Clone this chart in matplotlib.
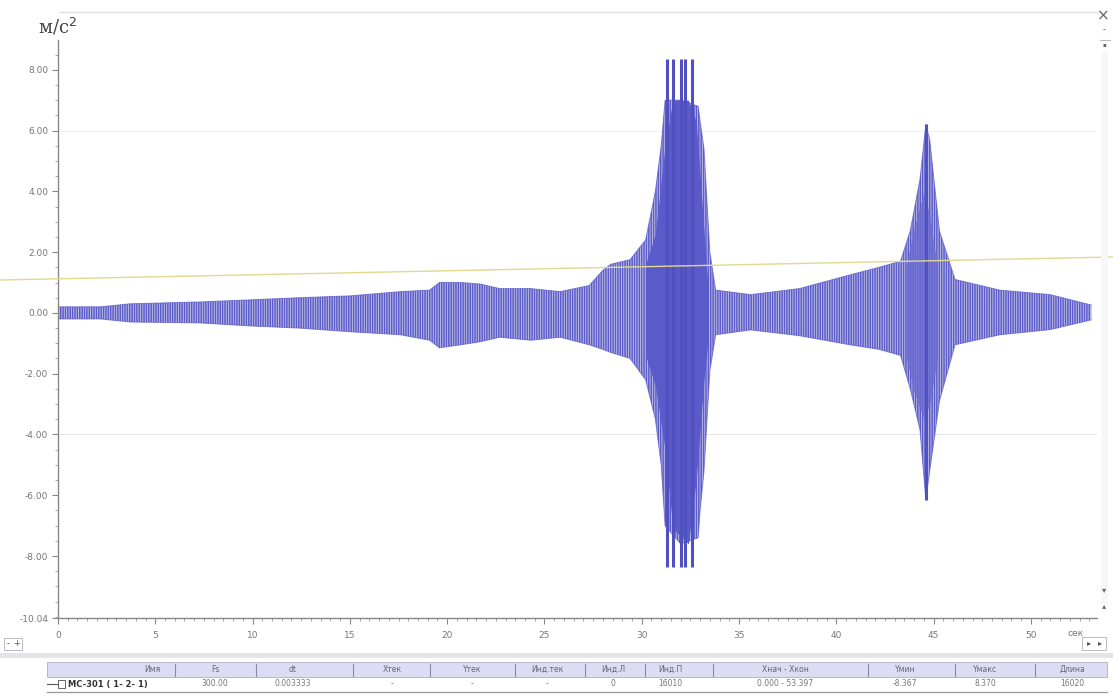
import matplotlib
matplotlib.use("Agg")
import matplotlib.pyplot as plt
from matplotlib.ticker import MultipleLocator, FixedLocator
from matplotlib.patches import Rectangle

# =============================
# Data
# =============================
# time (s) and upper / lower envelope of the signal (m/s^2)
env_t = [0.0, 2.2, 3.7, 7.3, 9.9, 12.4, 15.0, 17.6, 19.1, 19.6, 20.7, 21.7,
         22.7, 24.3, 25.8, 27.3, 28.0, 28.4, 29.4, 30.2, 30.7, 31.0, 31.2,
         32.0, 32.9, 33.0, 33.2, 33.5, 33.8, 35.6, 38.1, 40.7, 42.2, 43.3,
         43.8, 44.3, 44.6, 44.8, 45.3, 46.1, 48.4, 51.0, 53.1]
env_hi = [0.20, 0.20, 0.30, 0.36, 0.43, 0.50, 0.56, 0.70, 0.75, 1.00, 1.00, 0.95,
          0.80, 0.80, 0.70, 0.90, 1.40, 1.60, 1.75, 2.40, 4.00, 5.50, 7.00,
          7.00, 6.80, 6.30, 5.40, 2.00, 0.75, 0.60, 0.80, 1.25, 1.50, 1.70,
          2.70, 4.40, 6.20, 5.70, 2.70, 1.10, 0.75, 0.60, 0.26]
env_lo = [-0.20, -0.20, -0.30, -0.33, -0.43, -0.50, -0.62, -0.72, -0.90, -1.15, -1.05, -0.95,
          -0.80, -0.90, -0.80, -1.05, -1.20, -1.30, -1.50, -2.20, -3.50, -5.00, -7.00,
          -7.60, -7.40, -6.50, -5.20, -1.90, -0.72, -0.56, -0.75, -1.05, -1.20, -1.40,
          -2.50, -3.85, -6.15, -5.20, -2.90, -1.05, -0.72, -0.55, -0.23]

# dense (solid) cores of the two bursts
core_t = [30.2, 30.7, 31.2, 31.6, 32.4, 32.8, 33.2, 33.4]
core_hi = [1.6, 2.6, 5.5, 7.0, 7.0, 6.3, 2.7, 0.9]
core_lo = [-1.4, -2.4, -4.5, -7.1, -7.6, -5.5, -2.2, -0.9]
core2_t = [43.6, 44.0, 44.5, 44.8, 45.2]
core2_hi = [1.6, 2.8, 4.0, 3.2, 1.5]
core2_lo = [-1.5, -2.6, -3.5, -3.0, -1.5]

# clipped spikes (s, min, max)
spike_t = [31.3, 31.6, 32.0, 32.2, 32.6, 44.6]
spike_hi = [8.37, 8.37, 8.37, 8.37, 8.37, 6.20]
spike_lo = [-8.36, -8.36, -8.36, -8.36, -8.36, -6.15]

y_ticks = [8.0, 6.0, 4.0, 2.0, 0.0, -2.0, -4.0, -6.0, -8.0, -10.04]
x_ticks = [0, 5, 10, 15, 20, 25, 30, 35, 40, 45, 50]

tbl_head = ["Имя", "Fs", "dt", "Xтек", "Yтек", "Инд.тек", "Инд.Л", "Инд.П",
            "Xнач - Xкон", "Yмин", "Yмакс", "Длина"]
tbl_row = ["MC-301 ( 1- 2- 1)", "300.00", "0.003333", "-", "-", "-", "0", "16010",
           "0.000 - 53.397", "-8.367", "8.370", "16020"]

SIG = "#5c5cc8"
GREY = "#777777"

plt.rcParams["hatch.linewidth"] = 1.1
fig = plt.figure(figsize=(11.13, 6.97), dpi=100)

# =============================
# Signal axes
# =============================
ax = fig.add_axes([58 / 1113, 1 - 618 / 697, 1039 / 1113, 578 / 697])
ax.set_xlim(0, 53.397)
ax.set_ylim(-10.04, 8.98)

ax.fill_between(env_t, env_lo, env_hi, facecolor="#c4c4ee",
                edgecolor=SIG, hatch="|" * 7, linewidth=0, zorder=2)
ax.plot(env_t, env_hi, color=SIG, lw=0.7, alpha=0.7, zorder=2)
ax.plot(env_t, env_lo, color=SIG, lw=0.7, alpha=0.7, zorder=2)
ax.fill_between(core_t, core_lo, core_hi, color="#5a5ac8", lw=0, zorder=3)
ax.fill_between(core2_t, core2_lo, core2_hi, color="#6a6ad0", lw=0, alpha=0.8, zorder=3)
ax.vlines(spike_t, spike_lo, spike_hi, color="#5050c0", lw=2.2, zorder=4)

ax.axhline(-4.0, color="#e6e6e6", lw=0.8, zorder=1)
ax.axhline(6.0, color="#f2f2f2", lw=0.8, zorder=1)

for s in ["top", "right"]:
    ax.spines[s].set_visible(False)
for s in ["left", "bottom"]:
    ax.spines[s].set_color("#888888")
    ax.spines[s].set_linewidth(1.0)

ax.yaxis.set_major_locator(FixedLocator(y_ticks))
ax.set_yticklabels([f"{v:.2f}" for v in y_ticks])
ax.yaxis.set_minor_locator(MultipleLocator(0.5))
ax.xaxis.set_major_locator(FixedLocator(x_ticks))
ax.set_xticklabels([str(v) for v in x_ticks])
ax.xaxis.set_minor_locator(MultipleLocator(0.5))
ax.tick_params(which="major", length=4, width=0.8, color="#888888",
               labelsize=6.5, labelcolor=GREY, pad=3)
ax.tick_params(which="minor", length=2, width=0.6, color="#999999")
ax.tick_params(axis="x", which="major", pad=5)

# =============================
# Frame, labels and table drawn in pixel coordinates
# =============================
ov = fig.add_axes([0, 0, 1, 1], zorder=5)
ov.set_xlim(0, 1113)
ov.set_ylim(697, 0)
ov.axis("off")
ov.patch.set_alpha(0)

ov.plot([0, 1113], [280, 257], color="#e2d88e", lw=1.0)
ov.plot([60, 1100], [12, 12], color="#e0e0e0", lw=1.0)
ov.text(38, 27, "м/с$^2$", fontsize=13, family="DejaVu Serif", color="#444444",
        va="center", ha="left")
ov.text(1068, 633, "сек", fontsize=6.5, color=GREY, va="center")
ov.text(1103, 16, "×", fontsize=11, color="#666666", ha="center", va="center")
ov.plot([1100, 1110], [40, 40], color="#bbbbbb", lw=0.8)
ov.text(1104, 30, "-", fontsize=6, color="#666666", ha="center", va="center")
ov.text(1104, 45, "▪", fontsize=4, color="#666666", ha="center", va="center")
ov.plot([1104, 1104], [55, 600], color="#f7f7f7", lw=5)
ov.text(1104, 590, "▾", fontsize=6, color="#666666", ha="center", va="center")
ov.text(1104, 606, "▴", fontsize=6, color="#666666", ha="center", va="center")

# scroll buttons under the axis
ov.add_patch(Rectangle((4, 638), 18, 12, fc="white", ec="#bbbbbb", lw=0.7))
ov.text(8, 644, "-", fontsize=6, color="#555555", ha="center", va="center")
ov.text(17, 644, "+", fontsize=6, color="#555555", ha="center", va="center")
ov.add_patch(Rectangle((1082, 637), 24, 13, fc="white", ec="#bbbbbb", lw=0.7))
ov.text(1089, 643, "▸", fontsize=6, color="#555555", ha="center", va="center")
ov.text(1100, 643, "▸", fontsize=6, color="#555555", ha="center", va="center")

# table
ov.add_patch(Rectangle((0, 653), 1113, 5, fc="#e4e4ea", ec="none"))
ov.add_patch(Rectangle((47, 662), 1060, 15, fc="#dcdcf2", ec="#b8b8cc", lw=0.7))
ov.plot([47, 1107], [692, 692], color="#9a9a9a", lw=0.9)
ov.plot([47, 57], [684, 684], color="#555555", lw=0.8)
ov.add_patch(Rectangle((58, 680), 7, 8, fc="white", ec="#666666", lw=0.7))

col_c = [152, 215, 293, 392, 472, 547, 613, 670, 785, 905, 985, 1072]
col_sep = [175, 256, 353, 430, 515, 585, 645, 713, 868, 955, 1035]
for xs in col_sep:
    ov.plot([xs, xs], [664, 676], color="#8888aa", lw=0.8)
for i, (h, v) in enumerate(zip(tbl_head, tbl_row)):
    ov.text(col_c[i], 669.5, h, fontsize=5.5, color="#666677", ha="center", va="center")
    if i == 0:
        ov.text(68, 684, v, fontsize=6, color="#333333", ha="left", va="center",
                fontweight="bold")
    else:
        ov.text(col_c[i], 684, v, fontsize=5.5, color="#777777", ha="center",
                va="center")

fig.savefig("out.png", dpi=100)
